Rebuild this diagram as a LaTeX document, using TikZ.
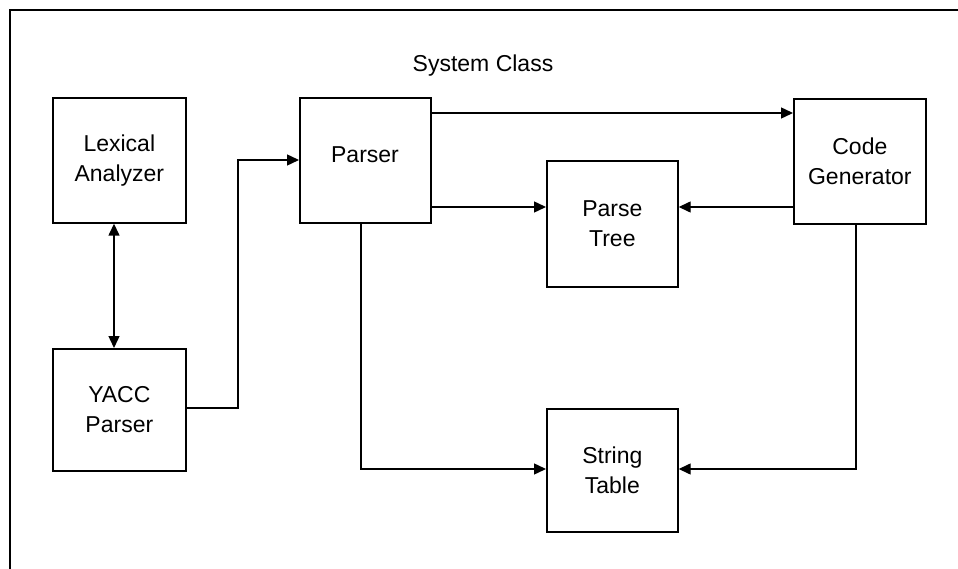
\documentclass[tikz,border=0pt]{standalone}
\usepackage{fontspec}
\setmainfont{Liberation Sans}
\usetikzlibrary{arrows.meta}
\begin{document}
\begin{tikzpicture}[x=1pt,y=-1pt,
  blockbox/.style={draw, line width=1.7pt, inner sep=0pt, anchor=north west,
    font=\fontsize{23}{30}\selectfont, align=center},
  tip/.style={Triangle[length=12pt,width=11pt]},
  link/.style={line width=1.4pt, -{Triangle[length=12pt,width=11pt]}}]
\useasboundingbox (0,0) rectangle (958,569);
% frame: only the top and left edges are visible
\draw[line width=2.4pt] (958,10) -- (10,10) -- (10,569);
\node (title) at (483,66) {\fontsize{23}{30}\selectfont System Class};
% blocks
\node[blockbox, minimum width=133pt, minimum height=125pt] (lex) at (52,97) {Lexical\\Analyzer};
\node[blockbox, minimum width=133pt, minimum height=122pt] (yacc) at (52,348) {YACC\\Parser};
\node[blockbox, minimum width=131pt, minimum height=125pt] (parser) at (299,97) {};
\node (parserlabel) at (365,155) {\fontsize{23}{30}\selectfont Parser};
\node[blockbox, minimum width=131pt, minimum height=126pt] (tree) at (546,160) {Parse\\Tree};
\node[blockbox, minimum width=132pt, minimum height=125pt] (code) at (793,98) {Code\\Generator};
\node[blockbox, minimum width=131pt, minimum height=123pt] (table) at (546,408) {String\\Table};
% connectors
\draw[link, {Triangle[length=12pt,width=11pt]}-{Triangle[length=12pt,width=11pt]}]
  (lex.south -| 114,0) -- (yacc.north -| 114,0);
\coordinate (ybend1) at (238,408);
\coordinate (ybend2) at (238,160);
\draw[link] (yacc.east |- ybend1) -- (ybend1) -- (ybend2) -- (parser.west |- ybend2);
\draw[link] (parser.east |- 0,113) -- (code.west |- 0,113);
\draw[link] (parser.east |- 0,207) -- (tree.west |- 0,207);
\draw[link] (code.west |- 0,207) -- (tree.east |- 0,207);
\coordinate (pbend) at (361,469);
\draw[link] (parser.south -| pbend) -- (pbend) -- (table.west |- pbend);
\coordinate (cbend) at (856,469);
\draw[link] (code.south -| cbend) -- (cbend) -- (table.east |- cbend);
\end{tikzpicture}
\end{document}
